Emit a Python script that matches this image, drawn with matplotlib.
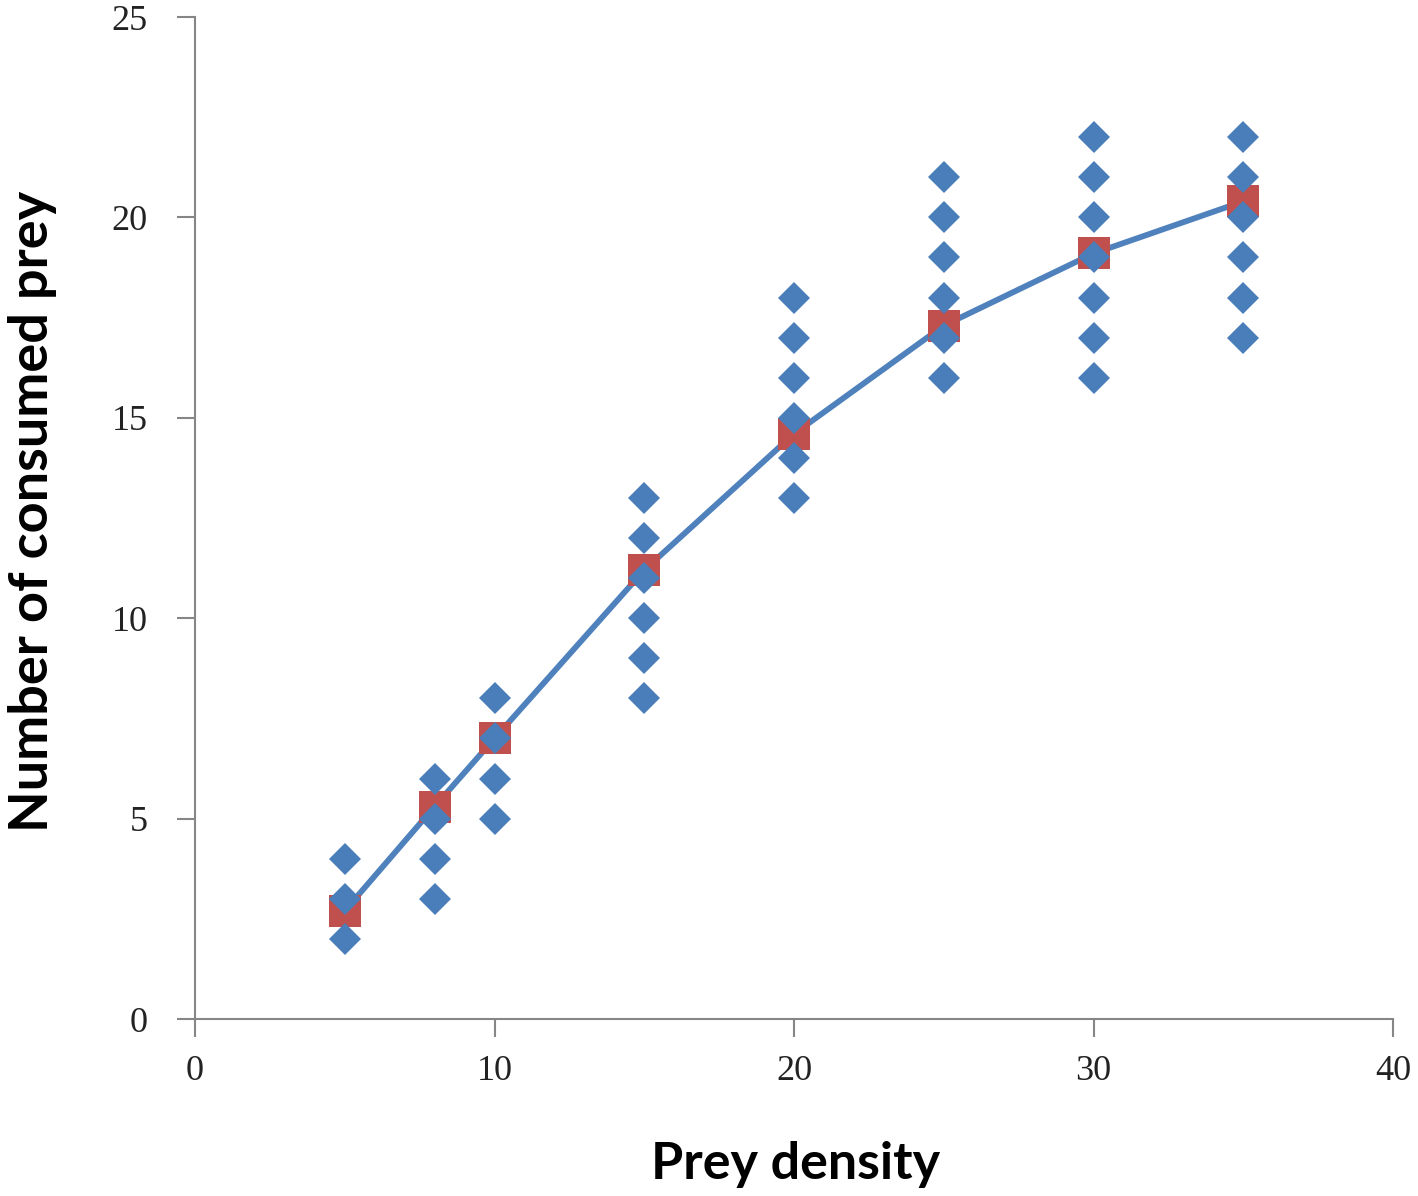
import matplotlib
matplotlib.use("Agg")
import matplotlib.pyplot as plt

# Prey density levels
density = [5, 8, 10, 15, 20, 25, 30, 35]
# Observed (distinct visible) consumed prey values per density
observed = [
    [2, 3, 4],
    [3, 4, 5, 6],
    [5, 6, 7, 8],
    [8, 9, 10, 11, 12, 13],
    [13, 14, 15, 16, 17, 18],
    [16, 17, 18, 19, 20, 21],
    [16, 17, 18, 19, 20, 21, 22],
    [17, 18, 19, 20, 21, 22],
]
# Mean consumed prey per density
means = [2.7, 5.3, 7.0, 11.2, 14.6, 17.3, 19.1, 20.4]

x_ticks = [0, 10, 20, 30, 40]
y_ticks = [0, 5, 10, 15, 20, 25]

W, H = 1418, 1196
fig = plt.figure(figsize=(W / 100, H / 100), dpi=100)
ax = fig.add_axes([195 / W, 1 - 1019 / H, (1393 - 195) / W, (1019 - 17) / H])

blue = "#4A7EBB"
red = "#C0504D"

ax.plot(density, means, color="#4F81BD", lw=4.2, zorder=2, solid_capstyle="round")
ax.plot(density, means, linestyle="none", marker="s", ms=23.5, mfc=red, mec=red,
        mew=0, zorder=3)

xs, ys = [], []
for d, vals in zip(density, observed):
    for v in vals:
        xs.append(d)
        ys.append(v)
ax.plot(xs, ys, linestyle="none", marker="D", ms=16.3, mfc=blue, mec=blue, mew=0,
        zorder=4)

ax.set_xlim(0, 40)
ax.set_ylim(0, 25)
ax.set_xticks(x_ticks)
ax.set_yticks(y_ticks)
ax.set_xticklabels([str(t) for t in x_ticks])
ax.set_yticklabels([str(t) for t in y_ticks])

for s in ["top", "right"]:
    ax.spines[s].set_visible(False)
for s in ["left", "bottom"]:
    ax.spines[s].set_color("#868686")
    ax.spines[s].set_linewidth(1.5)

ax.tick_params(axis="both", direction="out", length=13, width=1.5, color="#868686",
               labelsize=26, labelcolor="#222222")
ax.tick_params(axis="x", pad=13)
ax.tick_params(axis="y", pad=21)
for lab in ax.get_xticklabels() + ax.get_yticklabels():
    lab.set_fontfamily("Liberation Serif")

ax.set_xlabel("Prey density", fontfamily="Lato", fontweight="bold", fontsize=37.5)
ax.set_ylabel("Number of consumed prey", fontfamily="Lato", fontweight="bold",
              fontsize=39)
ax.xaxis.set_label_coords((796 - 195) / 1198, (1019 - 1141) / 1002)
ax.yaxis.set_label_coords((57 - 195) / 1198, (1019 - 511) / 1002)

fig.savefig("out.png", dpi=100)
